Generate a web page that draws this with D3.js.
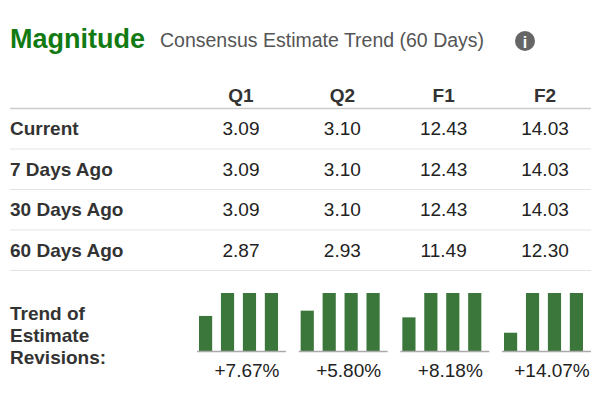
<!DOCTYPE html><html><head><meta charset="utf-8">
<script src="https://cdn.jsdelivr.net/npm/d3@7"></script>
<style>body{margin:0;background:#fff}text{font-family:"Liberation Sans",Arial,sans-serif}</style></head><body>
<script>
const periods=["Q1","Q2","F1","F2"];
const rowLabels=["Current","7 Days Ago","30 Days Ago","60 Days Ago"];
const current=[3.09,3.10,12.43,14.03];
const days7=[3.09,3.10,12.43,14.03];
const days30=[3.09,3.10,12.43,14.03];
const days60=[2.87,2.93,11.49,12.30];
const revisions=["+7.67%","+5.80%","+8.18%","+14.07%"];
const rows=[current,days7,days30,days60];

const svg=d3.select("body").append("svg").attr("width",591).attr("height",407);
svg.append("text").attr("x",10).attr("y",48).attr("fill","#127a12").attr("font-weight","bold").attr("font-size",27).text("Magnitude");
svg.append("text").attr("x",160).attr("y",47).attr("fill","#555").attr("font-size",19.5).text("Consensus Estimate Trend (60 Days)");
svg.append("circle").attr("cx",525).attr("cy",41).attr("r",10).attr("fill","#666");
svg.append("text").attr("x",525).attr("y",48).attr("text-anchor","middle").attr("fill","#fff").attr("font-weight","bold").attr("font-size",16).attr("font-family","Georgia,serif").text("i");

const x=d3.scalePoint().domain(periods).range([241,545]);
svg.selectAll(".hd").data(periods).join("text").attr("x",d=>x(d)).attr("y",102).attr("text-anchor","middle")
 .attr("font-weight","bold").attr("font-size",19).attr("fill","#333").text(d=>d);
svg.append("line").attr("x1",10).attr("x2",591).attr("y1",108.5).attr("y2",108.5).attr("stroke","#ccc").attr("stroke-width",1.5);
const ry=d3.scaleBand().domain(rowLabels).range([108,270]);
rowLabels.forEach((r,i)=>{
 const cy=ry(r)+ry.bandwidth()/2;
 svg.append("text").attr("x",10).attr("y",cy+7).attr("font-weight","bold").attr("font-size",19).attr("fill","#333").text(r);
 svg.selectAll(null).data(rows[i]).join("text").attr("x",(d,j)=>x(periods[j])).attr("y",cy+7).attr("text-anchor","middle")
  .attr("font-size",19).attr("fill","#222").text(d=>d.toFixed(2));
 svg.append("line").attr("x1",10).attr("x2",591).attr("y1",ry(r)+ry.bandwidth()+0.5).attr("y2",ry(r)+ry.bandwidth()+0.5).attr("stroke","#e4e4e4");
});
["Trend of","Estimate","Revisions:"].forEach((t,i)=>svg.append("text").attr("x",10).attr("y",320+i*22).attr("font-weight","bold").attr("font-size",19).attr("fill","#333").text(t));

const gx=d3.scalePoint().domain(periods).range([199,504]);
const h=d3.scaleLinear().domain([0.82,1]).range([0,58]).clamp(true);
const bx=d3.scaleBand().domain([0,1,2,3]).range([0,79]).paddingInner(0.4).paddingOuter(0);
periods.forEach((p,j)=>{
 const vals=[days60[j],days30[j],days7[j],current[j]];
 const mx=d3.max(vals);
 const g=svg.append("g").attr("transform",`translate(${gx(p)},0)`);
 g.selectAll("rect").data(vals).join("rect").attr("x",(d,i)=>bx(i)).attr("width",bx.bandwidth())
  .attr("y",d=>351-h(d/mx)).attr("height",d=>h(d/mx)).attr("fill","#3b763b");
 g.append("line").attr("x1",-2).attr("x2",87).attr("y1",351.5).attr("y2",351.5).attr("stroke","#aaa").attr("stroke-width",1.5);
 g.append("text").attr("x",48).attr("y",377).attr("text-anchor","middle").attr("font-size",19).attr("fill","#222").text(revisions[j]);
});
</script></body></html>
